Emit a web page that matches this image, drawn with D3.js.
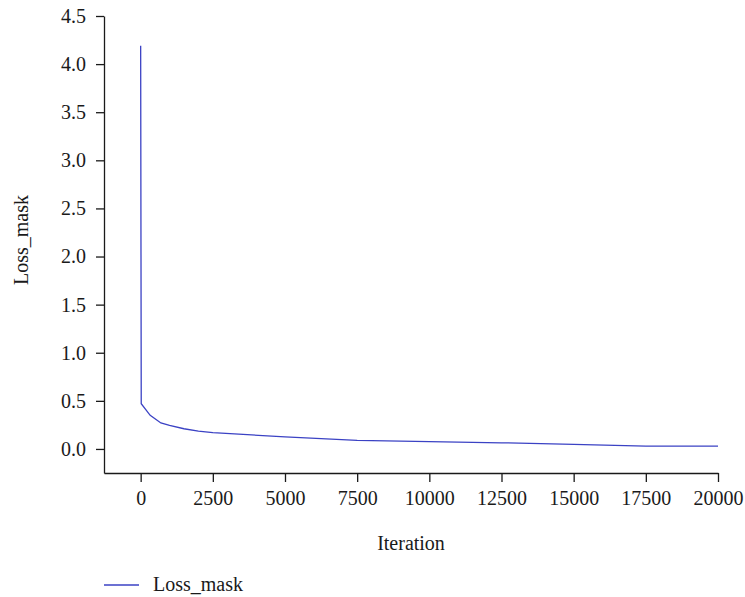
<!DOCTYPE html>
<html>
<head>
<meta charset="utf-8">
<script src="https://cdn.jsdelivr.net/npm/d3@7"></script>
<style>
  body { margin: 0; background: #fff; }
  svg text { font-family: "Liberation Serif", "Times New Roman", "DejaVu Serif", serif; }
</style>
</head>
<body>
<div id="chart"></div>
<script>
// values
var iterations = [0, 20, 330, 700, 1000, 1500, 2000, 2500, 5000, 7500, 10000, 12500, 15000, 17500, 20000];
var lossMask   = [4.19, 0.47, 0.35, 0.27, 0.245, 0.21, 0.185, 0.17, 0.125, 0.09, 0.077, 0.064, 0.048, 0.03, 0.03];
var xTicks = [0, 2500, 5000, 7500, 10000, 12500, 15000, 17500, 20000];
var yTicks = [0, 0.5, 1.0, 1.5, 2.0, 2.5, 3.0, 3.5, 4.0, 4.5];

var serif = "'Liberation Serif', 'Times New Roman', 'DejaVu Serif', serif";
var W = 745, H = 597;
var svg = d3.select("#chart").append("svg")
    .attr("width", W)
    .attr("height", H)
    .attr("font-family", serif);

var x = d3.scaleLinear().domain([-1270, 20000]).range([104, 718]);
var y = d3.scaleLinear().domain([-0.25, 4.5]).range([473, 16]);

var data = iterations.map(function(it, i){ return { it: it, v: lossMask[i] }; });

// x axis
var xg = svg.append("g")
    .attr("transform", "translate(0,473)")
    .call(d3.axisBottom(x).tickValues(xTicks).tickSize(9).tickPadding(9).tickSizeOuter(0)
        .tickFormat(d3.format("d")));

// y axis
var yg = svg.append("g")
    .attr("transform", "translate(104,0)")
    .call(d3.axisLeft(y).tickValues(yTicks).tickSize(8).tickPadding(10).tickSizeOuter(0)
        .tickFormat(d3.format(".1f")));

[xg, yg].forEach(function(g){
    g.attr("font-family", serif).attr("font-size", 20);
    g.selectAll("path, line").attr("stroke", "#1a1a1a").attr("stroke-width", 1.3);
    g.selectAll("text").attr("fill", "#1a1a1a");
});

// the curve
svg.append("path")
    .datum(data)
    .attr("fill", "none")
    .attr("stroke", "#3b42c4")
    .attr("stroke-width", 1.3)
    .attr("d", d3.line().x(function(d){ return x(d.it); }).y(function(d){ return y(d.v); }));

// titles
svg.append("text")
    .attr("x", (x.range()[0] + x.range()[1]) / 2)
    .attr("y", 550)
    .attr("text-anchor", "middle")
    .attr("fill", "#1a1a1a")
    .attr("font-size", 20)
    .text("Iteration");

svg.append("text")
    .attr("transform", "translate(28,240) rotate(-90)")
    .attr("text-anchor", "middle")
    .attr("fill", "#1a1a1a")
    .attr("font-size", 20)
    .text("Loss_mask");

// legend
var lg = svg.append("g").attr("transform", "translate(104,585)");
lg.append("line")
    .attr("x1", 0).attr("x2", 35).attr("y1", 0).attr("y2", 0)
    .attr("stroke", "#3b42c4").attr("stroke-width", 1.3);
lg.append("text")
    .attr("x", 49).attr("y", 6)
    .attr("fill", "#1a1a1a")
    .attr("font-size", 20)
    .text("Loss_mask");
</script>
</body>
</html>
